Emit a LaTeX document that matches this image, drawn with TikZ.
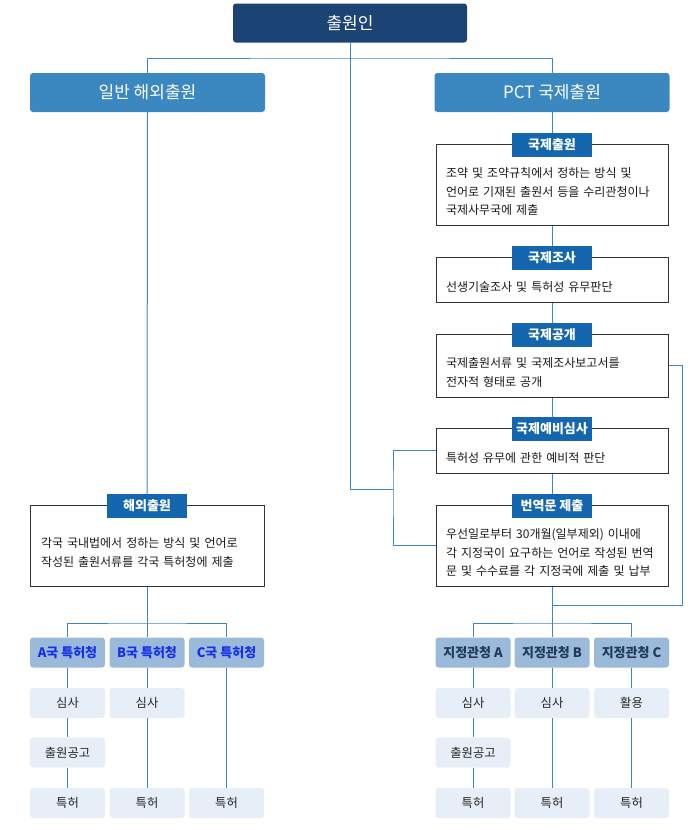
\documentclass[tikz,border=0pt]{standalone}
\usepackage{fontspec}
\setmainfont{Noto Sans CJK KR}
\definecolor{navy}{HTML}{1B4373}
\definecolor{midblue}{HTML}{3A88BF}
\definecolor{tagblue}{HTML}{1467AE}
\definecolor{linkblue}{HTML}{3D87C0}
\definecolor{offfill}{HTML}{9BBAD9}
\definecolor{resfill}{HTML}{E6EEF7}
\definecolor{offtext}{HTML}{1530E6}
\definecolor{deeptext}{HTML}{1E3B5E}
\newcommand{\tp}{\rule{0pt}{24pt}}

\begin{document}
\begin{tikzpicture}[x=1pt,y=-1pt,
    head/.style={fill=navy,text=white,rounded corners=3pt,minimum width=234pt,minimum height=39pt,font=\fontsize{17}{19}\selectfont},
    kind/.style={fill=midblue,text=white,rounded corners=3pt,minimum width=235pt,minimum height=39pt,font=\fontsize{17}{19}\selectfont},
    stepbox/.style={draw=black!80,line width=1pt,minimum width=232pt,text width=212pt,inner xsep=10pt,align=left,text=black!90,font=\fontsize{12}{18.5}\selectfont},
    tag/.style={fill=tagblue,text=white,minimum width=80pt,minimum height=24pt,inner sep=0pt,font=\fontsize{13}{15}\selectfont\bfseries},
    office/.style={fill=offfill,rounded corners=3pt,minimum width=75pt,minimum height=30pt,inner sep=0pt,font=\fontsize{13}{15}\selectfont\bfseries},
    result/.style={fill=resfill,rounded corners=3pt,minimum width=75pt,minimum height=30pt,inner sep=0pt,text=black!85,font=\fontsize{12.3}{14}\selectfont},
    link/.style={draw=linkblue,line width=1pt}]
    \useasboundingbox (0,0) rectangle (700,830);

    \node [head] (applicant) at (350,23) {출원인};
    \node [kind] (general) at (147.5,92.5) {일반 해외출원};
    \node [kind] (pct) at (552,92.5) {PCT 국제출원};

    % PCT side
    \node [stepbox,minimum height=81pt] (s1) at (552,184.5) {\tp 조약 및 조약규칙에서 정하는 방식 및\\ 언어로 기재된 출원서 등을 수리관청이나\\ 국제사무국에 제출};
    \node [stepbox,minimum height=45pt] (s2) at (552,279.5) {\tp 선생기술조사 및 특허성 유무판단};
    \node [stepbox,minimum height=63pt] (s3) at (552,365.5) {\tp 국제출원서류 및 국제조사보고서를\\ 전자적 형태로 공개};
    \node [stepbox,minimum height=45pt] (s4) at (552,450.5) {\tp 특허성 유무에 관한 예비적 판단};
    \node [stepbox,minimum height=81pt] (s5) at (552,545.5) {\tp 우선일로부터 30개월(일부제외) 이내에\\ 각 지정국이 요구하는 언어로 작성된 번역\\ 문 및 수수료를 각 지정국에 제출 및 납부};
    \node [tag] (t1) at ([yshift=-1.5pt]s1.north) {국제출원};
    \node [tag] (t2) at ([yshift=-1.5pt]s2.north) {국제조사};
    \node [tag] (t3) at ([yshift=-1.5pt]s3.north) {국제공개};
    \node [tag] (t4) at ([yshift=-1.5pt]s4.north) {국제예비심사};
    \node [tag] (t5) at ([yshift=-1.5pt]s5.north) {번역문 제출};

    % general side
    \node [stepbox,minimum width=234pt,text width=212pt,inner xsep=11pt,minimum height=81pt] (h1) at (147,545.5) {\tp 각국 국내법에서 정하는 방식 및 언어로\\ 작성된 출원서류를 각국 특허청에 제출};
    \node [tag] (th) at ([yshift=-1.5pt]h1.north) {해외출원};

    \node [office,text=offtext] (oa) at (67.5,652.5) {A국 특허청};
    \node [office,text=offtext] (ob) at (147,652.5) {B국 특허청};
    \node [office,text=offtext] (oc) at (226.5,652.5) {C국 특허청};
    \node [result] (ra1) at (67.5,703) {심사};
    \node [result] (ra2) at (67.5,752.5) {출원공고};
    \node [result] (ra3) at (67.5,803) {특허};
    \node [result] (rb1) at (147,703) {심사};
    \node [result] (rb3) at (147,803) {특허};
    \node [result] (rc3) at (226.5,803) {특허};

    \node [office,text=deeptext] (ga) at (473,652.5) {지정관청 A};
    \node [office,text=deeptext] (gb) at (552,652.5) {지정관청 B};
    \node [office,text=deeptext] (gc) at (631.5,652.5) {지정관청 C};
    \node [result] (qa1) at (473,703) {심사};
    \node [result] (qa2) at (473,752.5) {출원공고};
    \node [result] (qa3) at (473,803) {특허};
    \node [result] (qb1) at (552,703) {심사};
    \node [result] (qb3) at (552,803) {특허};
    \node [result] (qc1) at (631.5,703) {활용};
    \node [result] (qc3) at (631.5,803) {특허};

    \coordinate (top) at (350,58);
    \coordinate (jn) at (393,489);
    \coordinate (back) at (552,605);
    \coordinate (lsplit) at (147,623);
    \coordinate (rsplit) at (552,623);

    \draw [link] (general.north) |- (top) -| (pct.north);
    \draw [link] (applicant.south) -- (applicant.south |- jn) -- (jn);
    \draw [link] (s4.west) -| (jn) |- (s5.west);
    \draw [link] (pct.south) -- (t1.north);
    \draw [link] (s1.south) -- (t2.north);
    \draw [link] (s2.south) -- (t3.north);
    \draw [link] (s3.south) -- (t4.north);
    \draw [link] (s4.south) -- (t5.north);
    \draw [link] (s3.east) -- ++(14,0) |- (back);
    \draw [link] (s5.south) -- (rsplit);
    \draw [link] (ga.north) |- (rsplit) -| (gc.north);
    \draw [link] (rsplit) -- (gb.north);
    \draw [link] (ga) -- (qa1) -- (qa2) -- (qa3);
    \draw [link] (gb) -- (qb1) -- (qb3);
    \draw [link] (gc) -- (qc1) -- (qc3);

    \draw [link] (general.south) -- (th.north);
    \draw [link] (h1.south) -- (lsplit);
    \draw [link] (oa.north) |- (lsplit) -| (oc.north);
    \draw [link] (lsplit) -- (ob.north);
    \draw [link] (oa) -- (ra1) -- (ra2) -- (ra3);
    \draw [link] (ob) -- (rb1) -- (rb3);
    \draw [link] (oc) -- (rc3);

\end{tikzpicture}
\end{document}
